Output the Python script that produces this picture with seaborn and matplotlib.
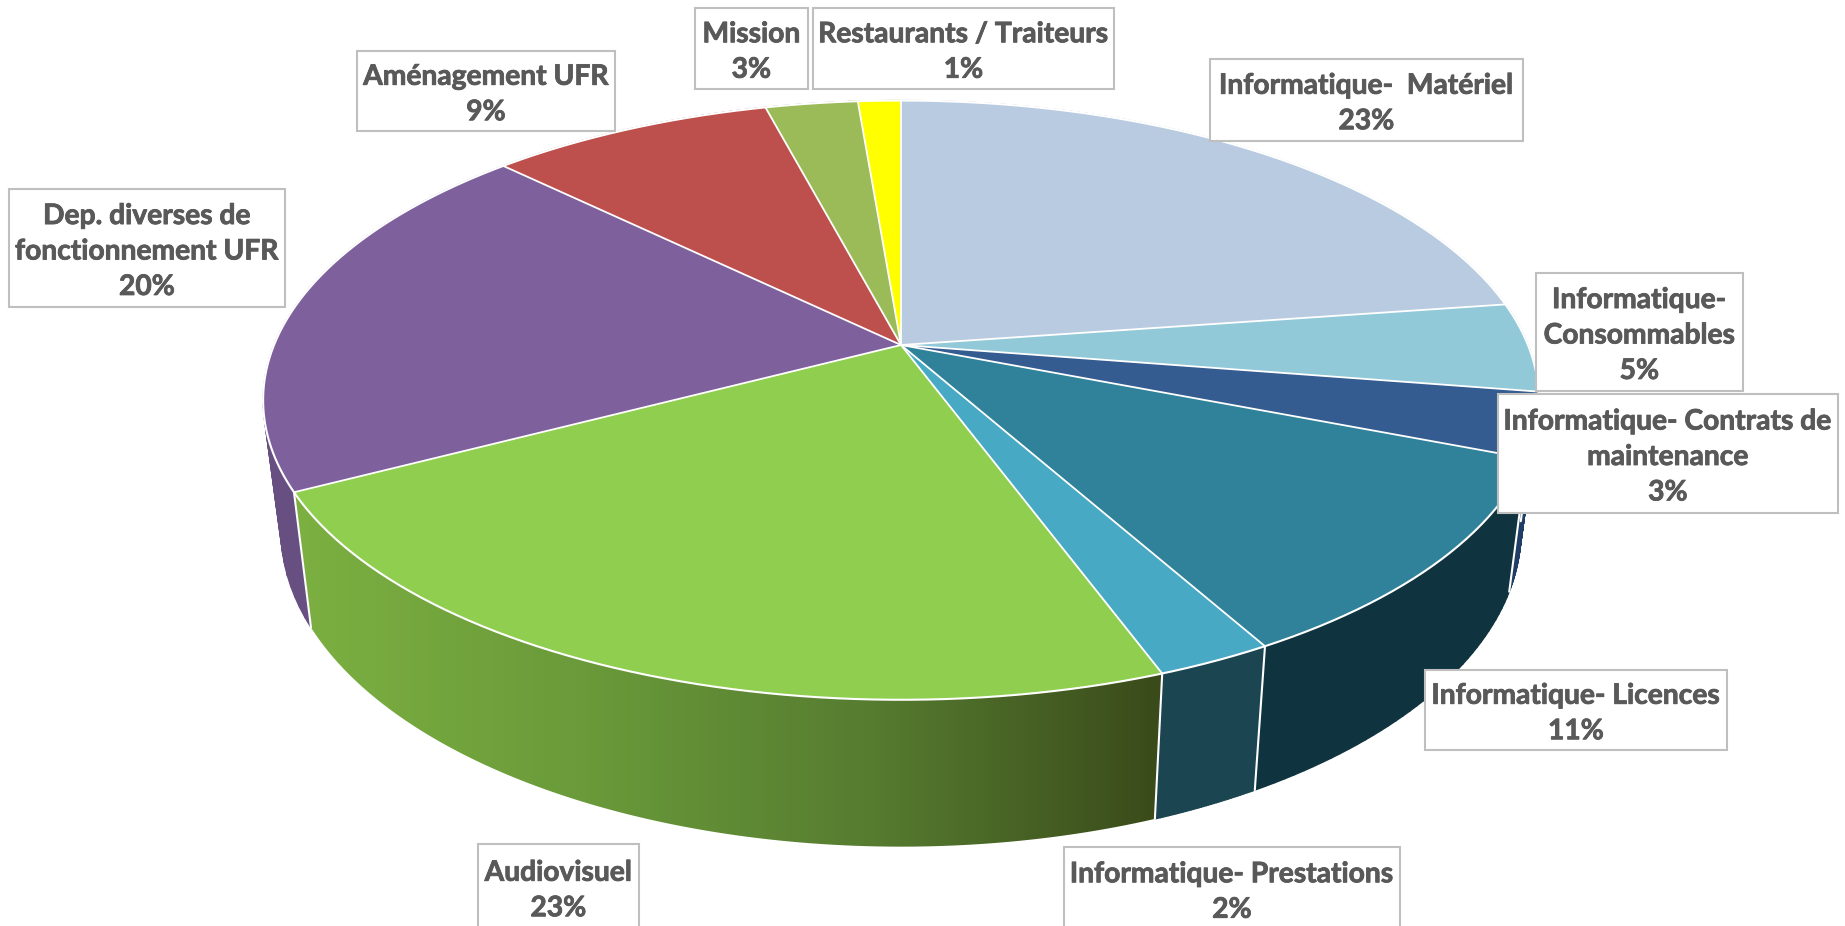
import numpy as np
import matplotlib
matplotlib.use("Agg")
import matplotlib.pyplot as plt
import matplotlib.patheffects as pe
from matplotlib.collections import PolyCollection
from matplotlib.colors import LinearSegmentedColormap
from matplotlib.patches import Polygon, Rectangle
import seaborn as sns

# slices, clockwise from the top of the pie
names = ["Informatique-  Matériel", "Informatique-\nConsommables", "Informatique- Contrats de\nmaintenance",
         "Informatique- Licences", "Informatique- Prestations", "Audiovisuel",
         "Dep. diverses de\nfonctionnement UFR", "Aménagement UFR", "Mission", "Restaurants / Traiteurs"]
values = [22.7, 4.8, 3.45, 10.95, 2.5, 22.9, 20.0, 8.6, 2.8, 1.3]
top_colors = ["#b9cbe0", "#91c9d9", "#355c90", "#2f8299", "#48a9c5",
              "#8fce4f", "#7e609c", "#bd4f4c", "#9bbb59", "#ffff00"]
side_colors = ["#8496ab", "#5f97a6", "#1f3d66", "#10343f", "#1c4552",
               "#7cb041", "#674f82", "#8a3735", "#6f8a3e", "#b8b800"]

# label boxes, in pixels: left, top, right, bottom
boxes = [(1210, 59, 1523, 141), (1536, 273, 1743, 391), (1498, 394, 1838, 513),
         (1425, 670, 1727, 750), (1064, 847, 1400, 930), (478, 844, 639, 930),
         (9, 189, 285, 307), (357, 51, 615, 131), (695, 8, 808, 89), (813, 8, 1114, 89)]

W, H = 1845, 926
CX, CY = 901, 345
R, A, K = 627, 289.5, 0.184
DEPTH, SQUEEZE, STRETCH = 127, 0.972, 1.056


def rim(theta):
    # theta in radians, clockwise from the top; perspective view of the disc
    u, v = np.sin(theta), np.cos(theta)
    w = 1 + K * v
    return CX + R * u / w, CY - A * v / w


def lower(x, y):
    return CX + SQUEEZE * (x - CX), CY + STRETCH * (y - CY) + DEPTH


sns.set_theme(style="white")
plt.rcParams["font.family"] = ["Lato", "DejaVu Sans"]

fig = plt.figure(figsize=(W / 100, H / 100), dpi=100)
ax = fig.add_axes([0, 0, 1, 1])
top_pal = sns.color_palette(top_colors)
side_pal = sns.color_palette(side_colors)

edges = np.radians(np.concatenate([[0], np.cumsum(values)]) / np.sum(values) * 360)
arcs = [np.linspace(a, b, 201) for a, b in zip(edges[:-1], edges[1:])]

# side walls first, the top disc covers what is behind it
green = LinearSegmentedColormap.from_list("wall", ["#7cb041", "#6a9a3a", "#567c30", "#3a4a1a"])
for i, t in enumerate(arcs):
    x, y = rim(t)
    lx, ly = lower(x, y)
    if names[i] == "Audiovisuel":
        px = np.r_[x, lx[::-1]]
        py = np.r_[y, ly[::-1]]
        poly = Polygon(np.c_[px, py], closed=True, fc="none", ec="none", zorder=1)
        ax.add_patch(poly)
        im = ax.imshow(np.linspace(0, 1, 256)[None, :], cmap=green, aspect="auto", zorder=1,
                       extent=(px.min(), px.max(), py.max(), py.min()))
        im.set_clip_path(poly)
    else:
        # strips, one polygon would fold over itself near the sides
        quads = [[(x[j], y[j]), (x[j + 5], y[j + 5]), (lx[j + 5], ly[j + 5]), (lx[j], ly[j])]
                 for j in range(0, len(t) - 5, 5)]
        ax.add_collection(PolyCollection(quads, facecolors=side_pal[i], edgecolors=side_pal[i], linewidths=1.0, zorder=1))
    # white seam at the end of the slice, front half only
    if np.cos(t[-1]) < 0.2 or np.cos(t[0]) < 0.2:
        ax.plot([x[-1], lx[-1]], [y[-1], ly[-1]], color="white", lw=1.5, zorder=2)

# top disc
for i, t in enumerate(arcs):
    x, y = rim(t)
    ax.fill(np.r_[CX, x], np.r_[CY, y], color=top_pal[i], lw=0, zorder=3)
x, y = rim(np.linspace(0, 2 * np.pi, 800))
ax.plot(x, y, color="white", lw=1.5, zorder=4)
for a in edges[:-1]:
    ex, ey = rim(a)
    ax.plot([CX, ex], [CY, ey], color="white", lw=1.3, zorder=4)

# labels
for name, v, b in zip(names, values, boxes):
    ax.add_patch(Rectangle((b[0], b[1]), b[2] - b[0], b[3] - b[1], fc="white", ec="#bfbfbf", lw=1.5, zorder=5))
    ax.text((b[0] + b[2]) / 2, (b[1] + b[3]) / 2 + 3.5, f"{name}\n{v:.0f}%", ha="center", va="center",
            color="#595959", fontsize=20.3, fontweight="bold", linespacing=1.45, zorder=6,
            path_effects=[pe.withStroke(linewidth=0.6, foreground="#595959")])

ax.set_xlim(0, W)
ax.set_ylim(H, 0)
ax.axis("off")
fig.savefig("out.png", dpi=100, facecolor="white")
